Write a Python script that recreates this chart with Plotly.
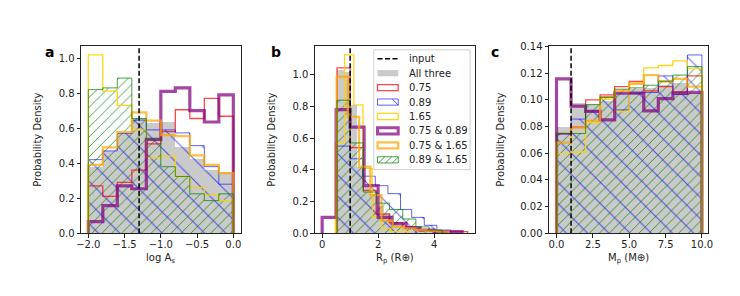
import plotly.graph_objects as go

# ---------------- data ----------------
series_names = ["All three", "0.75", "0.89", "1.65", "0.75 & 0.89", "0.75 & 1.65", "0.89 & 1.65"]
input_logAs = -1.3
input_Rp = 1.0
input_Mp = 1.0

# panel a : log A_s (shared bins)
a_edges = [-2.0, -1.8, -1.6, -1.4, -1.2, -1.0, -0.8, -0.6, -0.4, -0.2, 0.0]
a_all = [0.38, 0.47, 0.57, 0.65, 0.63, 0.637, 0.49, 0.425, 0.36, 0.35]
a_075 = [0.27, 0.21, 0.29, 0.36, 0.51, 0.58, 0.705, 0.655, 0.77, 0.668]
a_089 = [0.42, 0.47, 0.57, 0.646, 0.59, 0.59, 0.573, 0.5, 0.38, 0.28]
a_165 = [1.018, 0.812, 0.73, 0.59, 0.43, 0.44, 0.324, 0.26, 0.217, 0.186]
a_075_089 = [0.066, 0.158, 0.27, 0.254, 0.536, 0.81, 0.83, 0.70, 0.635, 0.79]
a_075_165 = [0.39, 0.49, 0.577, 0.69, 0.643, 0.56, 0.555, 0.444, 0.39, 0.343]
a_089_165 = [0.82, 0.83, 0.886, 0.655, 0.536, 0.38, 0.324, 0.225, 0.186, 0.225]

# panel b : R_p (each sample has its own bins)
b_edges_all = [0.53, 0.77, 1.01, 1.25, 1.49, 1.73, 1.97, 2.21, 2.45, 2.69, 2.93, 3.17, 3.41, 3.65, 3.89, 4.13, 4.37]
b_all = [1.03, 1.02, 0.81, 0.42, 0.30, 0.25, 0.17, 0.125, 0.07, 0.05, 0.03, 0.02, 0.015, 0.01, 0.01, 0.005]
b_edges_075 = [0.53, 1.0, 1.47, 1.93, 2.40, 2.87, 3.33, 3.80, 4.27, 4.73, 5.20]
b_075 = [1.044, 0.54, 0.27, 0.12, 0.065, 0.04, 0.02, 0.015, 0.01, 0.01]
b_edges_089 = [0.55, 1.0, 1.45, 1.9, 2.35, 2.8, 3.2, 3.65, 4.1, 4.6]
b_089 = [0.55, 0.47, 0.36, 0.30, 0.25, 0.15, 0.10, 0.05, 0.02]
b_edges_165 = [0.47, 0.80, 1.13, 1.46, 1.79, 2.12, 2.45, 2.78, 3.11]
b_165 = [0.57, 1.126, 0.81, 0.41, 0.10, 0.03, 0.01, 0.01]
b_edges_075_089 = [0.0, 0.5, 1.0, 1.5, 2.0, 2.5, 3.0, 3.5, 4.0, 4.5, 5.0]
b_075_089 = [0.10, 0.78, 0.67, 0.30, 0.10, 0.06, 0.035, 0.02, 0.01, 0.01]
b_edges_075_165 = [0.52, 0.92, 1.32, 1.72, 2.12, 2.52, 2.92, 3.32, 3.72, 4.12, 4.52]
b_075_165 = [0.988, 0.735, 0.42, 0.24, 0.08, 0.04, 0.03, 0.02, 0.015, 0.01]
b_edges_089_165 = [0.53, 1.0, 1.47, 1.94, 2.41, 2.88, 3.35, 3.82, 4.29]
b_089_165 = [0.84, 0.57, 0.26, 0.19, 0.15, 0.09, 0.04, 0.02]

# panel c : M_p (shared bins)
c_edges = [0, 1, 2, 3, 4, 5, 6, 7, 8, 9, 10]
c_all = [0.080, 0.098, 0.096, 0.099, 0.105, 0.108, 0.109, 0.111, 0.113, 0.105]
c_075 = [0.0748, 0.0796, 0.100, 0.1037, 0.110, 0.1138, 0.1068, 0.110, 0.106, 0.118]
c_089 = [0.0743, 0.0856, 0.0917, 0.102, 0.0925, 0.105, 0.1056, 0.118, 0.104, 0.1337]
c_165 = [0.0597, 0.0609, 0.0832, 0.1005, 0.0912, 0.1126, 0.1240, 0.1258, 0.1292, 0.1237]
c_075_089 = [0.1157, 0.0953, 0.0914, 0.085, 0.105, 0.105, 0.0917, 0.101, 0.105, 0.1056]
c_075_165 = [0.068, 0.079, 0.0844, 0.102, 0.107, 0.112, 0.1186, 0.1138, 0.1157, 0.110]
c_089_165 = [0.0748, 0.0748, 0.0965, 0.102, 0.108, 0.109, 0.111, 0.114, 0.1186, 0.125]

x_titles = ["log A<sub>s</sub>", "R<sub>p</sub> (R⊕)", "M<sub>p</sub> (M⊕)"]
y_title = "Probability Density"
panel_labels = ["a", "b", "c"]

# ---------------- styles ----------------
FONT = "DejaVu Sans"
TXT = "#222"
GRAY = "rgba(128,128,128,0.42)"
STY = {
    "0.75": dict(color="rgba(255,0,0,0.72)", width=1.3),
    "0.89": dict(color="rgba(0,0,255,0.62)", width=1.0, hatch="\\", hsize=15, hsol=0.07),
    "1.65": dict(color="rgba(255,210,0,0.9)", width=1.3),
    "0.75 & 0.89": dict(color="rgba(128,0,128,0.72)", width=3.2),
    "0.75 & 1.65": dict(color="rgba(255,165,0,0.72)", width=2.3),
    "0.89 & 1.65": dict(color="rgba(0,128,0,0.72)", width=1.0, hatch="/", hsize=7, hsol=0.14),
}

fig = go.Figure()


def step_xy(edges, h):
    xs = [edges[0]] + list(edges[:-1]) + [edges[-1]]
    ys = [0] + list(h) + [0]
    return xs, ys


def bar_geom(edges, h):
    centers = [(edges[i] + edges[i + 1]) / 2 for i in range(len(h))]
    widths = [edges[i + 1] - edges[i] for i in range(len(h))]
    return centers, widths


def add_panel(xa, ya, data):
    for name, edges, h in data:
        centers, widths = bar_geom(edges, h)
        if name == "All three":
            fig.add_trace(go.Bar(x=centers, y=h, width=widths, showlegend=False,
                                 marker=dict(color=GRAY, line=dict(width=0)),
                                 hoverinfo="skip", xaxis=xa, yaxis=ya))
            continue
        s = STY[name]
        if "hatch" in s:
            fig.add_trace(go.Bar(x=centers, y=h, width=widths, showlegend=False,
                                 marker=dict(color=s["color"], line=dict(width=0),
                                             pattern=dict(shape=s["hatch"], size=s["hsize"],
                                                          solidity=s["hsol"], fillmode="replace")),
                                 hoverinfo="skip", xaxis=xa, yaxis=ya))
        xs, ys = step_xy(edges, h)
        fig.add_trace(go.Scatter(x=xs, y=ys, mode="lines",
                                 line=dict(color=s["color"], width=s["width"], shape="hv"),
                                 showlegend=False, hoverinfo="skip", xaxis=xa, yaxis=ya))


add_panel("x", "y", [("All three", a_edges, a_all), ("0.75", a_edges, a_075), ("0.89", a_edges, a_089),
                     ("1.65", a_edges, a_165), ("0.75 & 0.89", a_edges, a_075_089),
                     ("0.75 & 1.65", a_edges, a_075_165), ("0.89 & 1.65", a_edges, a_089_165)])
add_panel("x2", "y2", [("All three", b_edges_all, b_all), ("0.75", b_edges_075, b_075),
                       ("0.89", b_edges_089, b_089), ("1.65", b_edges_165, b_165),
                       ("0.75 & 0.89", b_edges_075_089, b_075_089),
                       ("0.75 & 1.65", b_edges_075_165, b_075_165),
                       ("0.89 & 1.65", b_edges_089_165, b_089_165)])
add_panel("x3", "y3", [("All three", c_edges, c_all), ("0.75", c_edges, c_075), ("0.89", c_edges, c_089),
                       ("1.65", c_edges, c_165), ("0.75 & 0.89", c_edges, c_075_089),
                       ("0.75 & 1.65", c_edges, c_075_165), ("0.89 & 1.65", c_edges, c_089_165)])

# y ranges (matplotlib-style 5% headroom)
yr_a = [0, 1.069]
yr_b = [0, 1.182]
yr_c = [0, 0.1404]

# input lines
for xa, ya, v, yr in [("x", "y", input_logAs, yr_a), ("x2", "y2", input_Rp, yr_b),
                      ("x3", "y3", input_Mp, yr_c)]:
    fig.add_trace(go.Scatter(x=[v, v], y=yr, mode="lines", name="input",
                             line=dict(color="black", width=1.5, dash="5px,2.5px"),
                             showlegend=False, hoverinfo="skip", xaxis=xa, yaxis=ya))

ax_common = dict(showline=True, mirror=True, linecolor=TXT, linewidth=0.9, ticks="outside",
                 ticklen=3.5, tickwidth=0.9, tickcolor=TXT, showgrid=False, zeroline=False,
                 tickfont=dict(family=FONT, size=10, color=TXT),
                 title_font=dict(family=FONT, size=10, color=TXT))

W, H = 740, 296
def px(x):
    return x / W
def py(y):
    return 1 - y / H

ydom = [py(228.7), py(34.3)]
xdoms = [(69, 230.7), (306, 468.3), (543.3, 705)]

fig.update_layout(
    width=W, height=H, margin=dict(l=0, r=0, t=0, b=0),
    paper_bgcolor="white", plot_bgcolor="white", barmode="overlay", bargap=0,
    font=dict(family=FONT, size=10, color=TXT), showlegend=False,
    xaxis=dict(domain=[px(69), px(230.7)], range=[-2.1, 0.1], tickvals=[-2.0, -1.5, -1.0, -0.5, 0.0],
               tickformat=".1f", anchor="y", ticklabelstandoff=-2, **ax_common),
    yaxis=dict(domain=ydom, range=yr_a, tickvals=[0, 0.2, 0.4, 0.6, 0.8, 1.0], tickformat=".1f",
               title=dict(text=y_title, standoff=15), anchor="x", **ax_common),
    xaxis2=dict(domain=[px(306), px(468.3)], range=[-0.26, 5.46], tickvals=[0, 2, 4],
                anchor="y2", ticklabelstandoff=-2, **ax_common),
    yaxis2=dict(domain=ydom, range=yr_b, tickvals=[0, 0.2, 0.4, 0.6, 0.8, 1.0], tickformat=".1f",
                title=dict(text=y_title, standoff=15), anchor="x2", **ax_common),
    xaxis3=dict(domain=[px(543.3), px(705)], range=[-0.52, 10.45], tickvals=[0, 2.5, 5, 7.5, 10],
                tickformat=".1f", anchor="y3", ticklabelstandoff=-2, **ax_common),
    yaxis3=dict(domain=ydom, range=yr_c, tickvals=[0, 0.02, 0.04, 0.06, 0.08, 0.10, 0.12, 0.14],
                tickformat=".2f", title=dict(text=y_title, standoff=13), anchor="x3", **ax_common),
)

# x-axis titles
for (l, r), t in zip(xdoms, x_titles):
    fig.add_annotation(text=t, x=px((l + r) / 2), y=py(255), xref="paper", yref="paper", showarrow=False,
                       xanchor="center", yanchor="middle", font=dict(family=FONT, size=10, color=TXT))

# ---------------- legend (matplotlib style, drawn in panel b) ----------------
LX0, LX1, LY0, LY1 = 365.7, 463.3, 38.3, 162.7
fig.add_shape(type="rect", xref="paper", yref="paper", x0=px(LX0), x1=px(LX1), y0=py(LY1), y1=py(LY0),
              line=dict(color="#d0d0d0", width=1), fillcolor="rgba(255,255,255,0.82)", layer="above")
legend_labels = ["input"] + series_names
SX0, SX1, SH = 369.5, 390.5, 6.4
for i, lab in enumerate(legend_labels):
    yc = 47.5 + 15 * i
    top, bot = yc - SH / 2, yc + SH / 2
    if lab == "input":
        fig.add_shape(type="line", xref="paper", yref="paper", x0=px(SX0), x1=px(SX1), y0=py(yc), y1=py(yc),
                      line=dict(color="black", width=1.5, dash="5px,2.5px"))
    elif lab == "All three":
        fig.add_shape(type="rect", xref="paper", yref="paper", x0=px(SX0), x1=px(SX1), y0=py(bot), y1=py(top),
                      line=dict(width=0), fillcolor=GRAY)
    else:
        s = STY[lab]
        if lab == "0.89":
            fig.add_shape(type="line", xref="paper", yref="paper", x0=px(SX1 - 6), x1=px(SX1),
                          y0=py(top), y1=py(bot), line=dict(color=s["color"], width=1))
        if lab == "0.89 & 1.65":
            for k in range(3):
                xs0 = SX0 + 1 + 7 * k
                fig.add_shape(type="line", xref="paper", yref="paper", x0=px(xs0), x1=px(xs0 + SH),
                              y0=py(bot), y1=py(top), line=dict(color=s["color"], width=1))
        fig.add_shape(type="rect", xref="paper", yref="paper", x0=px(SX0), x1=px(SX1), y0=py(bot), y1=py(top),
                      line=dict(color=s["color"], width=min(s["width"], 3.0)), fillcolor="rgba(0,0,0,0)")
    fig.add_annotation(text=lab, x=px(399), y=py(yc), xref="paper", yref="paper", showarrow=False,
                       xanchor="left", yanchor="middle", font=dict(family=FONT, size=10, color=TXT))

for txt, xp in zip(panel_labels, [37.5, 266.5, 489]):
    fig.add_annotation(text="<b>%s</b>" % txt, x=px(xp), y=py(40), xref="paper", yref="paper",
                       showarrow=False, xanchor="center", yanchor="middle",
                       font=dict(family=FONT, size=14, color="black"))

fig.write_html("out.html")
